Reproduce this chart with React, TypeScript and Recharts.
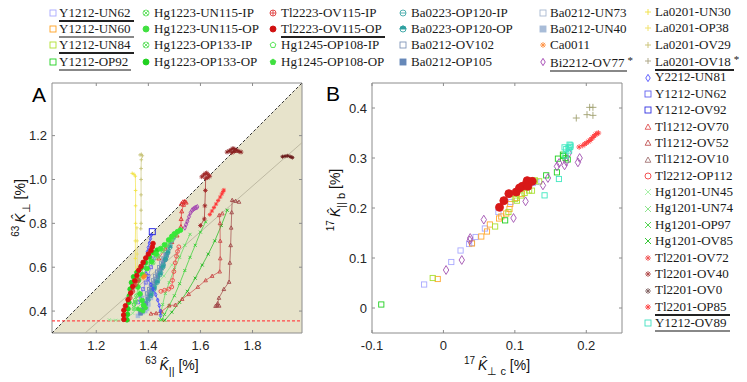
import React from 'react';
import { ScatterChart, Scatter, XAxis, YAxis, ReferenceArea, ReferenceLine } from 'recharts';

type Pt = [number, number];

// ---------- panel A: 63K_perp vs 63K_par (temperature sweeps) ----------
const aLa0201UN30: Pt[] = [[1.338, 1.028], [1.345, 1.024], [1.35, 1.015], [1.351, 0.95], [1.351, 0.88], [1.351, 0.8], [1.35, 0.72], [1.35, 0.64], [1.351, 0.58], [1.352, 0.55]];
const aLa0201OP38: Pt[] = [[1.356, 0.78], [1.357, 0.72], [1.357, 0.66], [1.358, 0.6], [1.358, 0.55], [1.359, 0.527]];
const aLa0201OV29: Pt[] = [[1.368, 1.112], [1.373, 1.115], [1.377, 1.108], [1.373, 1.09], [1.372, 1.05], [1.372, 1.0], [1.372, 0.93], [1.372, 0.86], [1.372, 0.8], [1.371, 0.775]];
const aCa0011: Pt[] = [[1.38, 0.552], [1.384, 0.558], [1.387, 0.562]];
const aTl2223OP: Pt[] = [[1.418, 0.708], [1.415, 0.692], [1.41, 0.676], [1.4, 0.66], [1.39, 0.642], [1.38, 0.622], [1.372, 0.604], [1.363, 0.586], [1.356, 0.562], [1.348, 0.538], [1.34, 0.512], [1.332, 0.482], [1.322, 0.452], [1.312, 0.424], [1.306, 0.404], [1.305, 0.382], [1.306, 0.362]];
const aTl2223IP: Pt[] = [[1.33, 0.46], [1.34, 0.49], [1.35, 0.52], [1.36, 0.54]];
const aHg1223UN115OP: Pt[] = [[1.523, 0.769], [1.512, 0.762], [1.5, 0.752], [1.49, 0.74], [1.478, 0.724], [1.462, 0.702], [1.447, 0.685], [1.43, 0.66], [1.412, 0.626], [1.395, 0.594], [1.378, 0.565], [1.362, 0.54], [1.36, 0.51], [1.368, 0.478], [1.376, 0.448], [1.382, 0.426]];
const aHg1223OP133OP: Pt[] = [[1.434, 0.678], [1.42, 0.666], [1.404, 0.646], [1.388, 0.622], [1.372, 0.598], [1.356, 0.576], [1.343, 0.556], [1.335, 0.53], [1.33, 0.5], [1.327, 0.47], [1.325, 0.44], [1.322, 0.41], [1.32, 0.385], [1.318, 0.36]];
const aHg1223UN115IP: Pt[] = [[1.505, 0.745], [1.49, 0.725], [1.472, 0.7], [1.455, 0.676], [1.437, 0.65], [1.418, 0.62]];
const aHg1223OP133IP: Pt[] = [[1.4, 0.62], [1.385, 0.6], [1.37, 0.58], [1.355, 0.47], [1.35, 0.44], [1.345, 0.41]];
const aHg1245OP: Pt[] = [[1.36, 0.41], [1.37, 0.405], [1.38, 0.4], [1.39, 0.415]];
const aHg1245IP: Pt[] = [[1.35, 0.45], [1.345, 0.43]];
const aBa0212OP105: Pt[] = [[1.37, 0.39], [1.375, 0.4], [1.382, 0.415], [1.39, 0.435], [1.398, 0.455], [1.405, 0.475], [1.412, 0.495], [1.42, 0.515], [1.428, 0.535], [1.436, 0.555], [1.443, 0.575], [1.45, 0.595], [1.457, 0.615], [1.463, 0.635], [1.47, 0.655]];
const aBa0212UN40: Pt[] = [[1.36, 0.378], [1.368, 0.39], [1.378, 0.395], [1.388, 0.4], [1.395, 0.41], [1.4, 0.43], [1.41, 0.46], [1.42, 0.49]];
const aBa0212OV102: Pt[] = [[1.395, 0.48], [1.403, 0.5], [1.41, 0.52], [1.418, 0.54], [1.426, 0.56], [1.434, 0.58], [1.442, 0.6], [1.45, 0.62], [1.458, 0.64], [1.466, 0.66]];
const aBa0212UN73: Pt[] = [[1.38, 0.44], [1.388, 0.46], [1.396, 0.48], [1.404, 0.5], [1.41, 0.52]];
const aBa0223IP: Pt[] = [[1.4, 0.45], [1.412, 0.48], [1.424, 0.51], [1.436, 0.54], [1.448, 0.575], [1.458, 0.61], [1.468, 0.645], [1.476, 0.675], [1.484, 0.7], [1.49, 0.72], [1.496, 0.732]];
const aBa0223OP: Pt[] = [[1.41, 0.47], [1.422, 0.5], [1.434, 0.53], [1.445, 0.565], [1.456, 0.6], [1.466, 0.635], [1.475, 0.665], [1.483, 0.69]];
const aY1212OV92: Pt[] = [[1.415, 0.762]];
const aY2212UN81: Pt[] = [[1.412, 0.748], [1.408, 0.73], [1.404, 0.71], [1.4, 0.69], [1.396, 0.67], [1.392, 0.645], [1.389, 0.62], [1.388, 0.596], [1.392, 0.57], [1.4, 0.545], [1.41, 0.52], [1.418, 0.5], [1.428, 0.475], [1.436, 0.45], [1.442, 0.425], [1.446, 0.4], [1.447, 0.38]];
const aY1212UN62: Pt[] = [[1.36, 0.44], [1.37, 0.47], [1.38, 0.5], [1.39, 0.53], [1.4, 0.56], [1.41, 0.6], [1.42, 0.64]];
const aTl2212OP112: Pt[] = [[1.517, 0.693], [1.512, 0.672], [1.508, 0.65], [1.503, 0.62], [1.498, 0.58], [1.493, 0.54], [1.49, 0.51], [1.478, 0.5], [1.462, 0.495], [1.448, 0.49]];
const aTl1212OV70: Pt[] = [[1.527, 0.89], [1.533, 0.898], [1.54, 0.9], [1.545, 0.895], [1.535, 0.885], [1.528, 0.855], [1.526, 0.82], [1.525, 0.785], [1.51, 0.745], [1.49, 0.715], [1.465, 0.685], [1.44, 0.64]];
const aTl1212OV52: Pt[] = [[1.684, 0.845], [1.672, 0.837], [1.675, 0.8], [1.676, 0.72], [1.676, 0.64], [1.674, 0.58], [1.645, 0.56], [1.62, 0.54], [1.59, 0.51], [1.555, 0.477], [1.53, 0.455], [1.504, 0.428], [1.48, 0.425], [1.45, 0.398], [1.43, 0.39], [1.41, 0.388]];
const aTl1212OV10: Pt[] = [[1.748, 0.898], [1.735, 0.902], [1.722, 0.906], [1.72, 0.85], [1.718, 0.78], [1.716, 0.7], [1.713, 0.62], [1.71, 0.533], [1.69, 0.5], [1.671, 0.46], [1.666, 0.435], [1.665, 0.426], [1.658, 0.423], [1.672, 0.424]];
const aTl2201OP85: Pt[] = [[1.636, 0.84], [1.644, 0.856], [1.652, 0.872], [1.66, 0.888], [1.668, 0.904], [1.676, 0.92], [1.682, 0.934], [1.687, 0.945], [1.69, 0.952]];
const aTl2201OV72: Pt[] = [[1.605, 1.012], [1.612, 1.02], [1.618, 1.026], [1.624, 1.03], [1.63, 1.022], [1.636, 1.015], [1.628, 1.008], [1.62, 1.005], [1.619, 0.95], [1.617, 0.88], [1.615, 0.82], [1.6, 0.79]];
const aTl2201OV40: Pt[] = [[1.702, 1.125], [1.71, 1.13], [1.718, 1.136], [1.725, 1.142], [1.732, 1.138], [1.74, 1.133], [1.748, 1.128], [1.756, 1.125], [1.72, 1.122], [1.73, 1.128]];
const aTl2201OV0: Pt[] = [[1.915, 1.104], [1.925, 1.106], [1.935, 1.108], [1.945, 1.104], [1.953, 1.1]];
const aHg1201OV85: Pt[] = [[1.703, 0.86], [1.68, 0.79], [1.655, 0.72], [1.63, 0.66], [1.607, 0.61], [1.58, 0.55], [1.55, 0.49], [1.52, 0.44], [1.49, 0.395], [1.463, 0.358]];
const aHg1201OP97: Pt[] = [[1.62, 0.807], [1.6, 0.76], [1.58, 0.7], [1.56, 0.645], [1.54, 0.585], [1.52, 0.525], [1.5, 0.47], [1.48, 0.425], [1.462, 0.385], [1.452, 0.36]];
const aHg1201UN74: Pt[] = [[1.56, 0.75], [1.54, 0.7], [1.52, 0.645], [1.5, 0.59], [1.48, 0.53], [1.465, 0.48], [1.455, 0.43], [1.448, 0.39], [1.444, 0.36]];
const aHg1201UN45: Pt[] = [[1.25, 0.36], [1.275, 0.358], [1.3, 0.36], [1.32, 0.37], [1.34, 0.39], [1.37, 0.43], [1.4, 0.47], [1.43, 0.52], [1.46, 0.56], [1.49, 0.61], [1.515, 0.65]];
const aBi2212: Pt[] = [[1.588, 0.875], [1.583, 0.872], [1.578, 0.869], [1.573, 0.865], [1.568, 0.86], [1.562, 0.848], [1.556, 0.83], [1.55, 0.81], [1.545, 0.795], [1.54, 0.78]];

// ---------- panel B: 17K_par,b vs 17K_perp,c ----------
const bY1212UN62: Pt[] = [[-0.027, 0.047], [0.011, 0.092], [0.024, 0.115], [0.036, 0.128], [0.04, 0.13], [0.045, 0.142], [0.058, 0.159], [0.077, 0.192], [0.094, 0.212], [0.125, 0.25], [0.13, 0.252]];
const bY1212UN60: Pt[] = [[-0.008, 0.058], [0.04, 0.129], [0.053, 0.143], [0.061, 0.153], [0.065, 0.167], [0.078, 0.179], [0.081, 0.183], [0.088, 0.189], [0.0925, 0.198], [0.0935, 0.208], [0.102, 0.22], [0.11, 0.228]];
const bY1212UN84: Pt[] = [[-0.015, 0.06], [0.0724, 0.163], [0.091, 0.192], [0.1, 0.218], [0.1028, 0.2147], [0.109, 0.225], [0.1136, 0.23], [0.12, 0.235], [0.124, 0.2347], [0.128, 0.2553], [0.134, 0.2533]];
const bY1212OP92: Pt[] = [[-0.087, 0.007], [0.0864, 0.1753], [0.1439, 0.2653], [0.1589, 0.2713], [0.1603, 0.2987], [0.1673, 0.3067], [0.171, 0.3], [0.174, 0.297], [0.168, 0.304]];
const bY1212OV89: Pt[] = [[0.1416, 0.2253], [0.1617, 0.258], [0.1696, 0.3213], [0.1766, 0.3267], [0.175, 0.32], [0.1775, 0.322], [0.172, 0.318], [0.178, 0.325], [0.171, 0.305], [0.176, 0.315]];
const bBi2212: Pt[] = [[0.0037, 0.076], [0.0257, 0.096], [0.0369, 0.1353], [0.0375, 0.14], [0.0565, 0.1767], [0.0981, 0.18], [0.115, 0.2133], [0.1393, 0.2453], [0.1463, 0.26], [0.1589, 0.2833], [0.162, 0.29], [0.1696, 0.2853], [0.172, 0.293], [0.1757, 0.31], [0.1883, 0.2913], [0.1907, 0.3]];
const bTl2223OP: Pt[] = [[0.0785, 0.2013], [0.0846, 0.2147], [0.0916, 0.2287], [0.1019, 0.232], [0.1065, 0.24], [0.1103, 0.2433], [0.1159, 0.248], [0.1173, 0.2547], [0.1182, 0.2433], [0.1243, 0.2533]];
const bTl2201OP85: Pt[] = [[0.19, 0.322], [0.195, 0.325], [0.198, 0.328], [0.2, 0.33], [0.203, 0.333], [0.205, 0.335], [0.207, 0.338], [0.209, 0.341], [0.211, 0.344], [0.213, 0.347], [0.215, 0.349], [0.217, 0.35]];
const bLa0201OV18: Pt[] = [[0.186, 0.38], [0.2047, 0.4013], [0.2093, 0.4013], [0.201, 0.3867], [0.2093, 0.3853]];

const aXTicks = [1.2, 1.4, 1.6, 1.8];
const aYTicks = [0.4, 0.6, 0.8, 1.0, 1.2];
const bXTicks = [-0.1, 0, 0.1, 0.2];
const bYTicks = [0, 0.1, 0.2, 0.3, 0.4];

type Series = { data: Pt[]; kind: string; color: string; r: number; line?: boolean };

const seriesA: Series[] = [
  { data: aHg1201UN45, kind: 'x', color: '#8ee88e', r: 1.5, line: true },
  { data: aHg1201UN74, kind: 'x', color: '#58dd58', r: 1.5, line: true },
  { data: aHg1201OP97, kind: 'x', color: '#30d030', r: 1.5, line: true },
  { data: aHg1201OV85, kind: 'x', color: '#18b818', r: 1.5, line: true },
  { data: aTl1212OV52, kind: 'tri', color: '#c84848', r: 1.9, line: true },
  { data: aTl1212OV10, kind: 'tri', color: '#a04848', r: 1.9, line: true },
  { data: aTl1212OV70, kind: 'tri', color: '#e03030', r: 2.1, line: true },
  { data: aTl2212OP112, kind: 'o', color: '#f04848', r: 1.9, line: true },
  { data: aBa0212UN73, kind: 'sq', color: '#a8b8d0', r: 1.7, line: true },
  { data: aBa0212OV102, kind: 'sq', color: '#8096b8', r: 1.7, line: true },
  { data: aBa0212UN40, kind: 'sqf', color: '#a8bcd8', r: 1.8, line: true },
  { data: aBa0212OP105, kind: 'sqf', color: '#6688b8', r: 1.8, line: true },
  { data: aBa0223IP, kind: 'oh', color: '#48a8a8', r: 2, line: true },
  { data: aBa0223OP, kind: 'ohalf', color: '#30a0a0', r: 2, line: true },
  { data: aY1212UN62, kind: 'sq', color: '#7070e8', r: 1.5, line: true },
  { data: aY2212UN81, kind: 'dia', color: '#4848ff', r: 1.6, line: true },
  { data: aLa0201UN30, kind: '+', color: '#f2e34a', r: 1.8, line: true },
  { data: aLa0201OP38, kind: '+', color: '#ece070', r: 1.8, line: true },
  { data: aLa0201OV29, kind: '+', color: '#c8c47a', r: 1.8, line: true },
  { data: aHg1245IP, kind: 'pent', color: '#40e040', r: 2.1, line: true },
  { data: aHg1245OP, kind: 'pentf', color: '#40e040', r: 2.1, line: true },
  { data: aHg1223OP133IP, kind: 'ox', color: '#60e060', r: 2, line: true },
  { data: aHg1223UN115IP, kind: 'ox', color: '#60e060', r: 2, line: true },
  { data: aHg1223OP133OP, kind: 'of', color: '#22d622', r: 2.3, line: true },
  { data: aHg1223UN115OP, kind: 'of', color: '#38e838', r: 2.4, line: true },
  { data: aTl2223IP, kind: 'op', color: '#e04040', r: 2, line: true },
  { data: aTl2223OP, kind: 'of', color: '#d81010', r: 2.3, line: true },
  { data: aCa0011, kind: 'ast', color: '#ff8a20', r: 2.6 },
  { data: aY1212OV92, kind: 'sq', color: '#1818e0', r: 3 },
  { data: aBi2212, kind: 'dia', color: '#a040b0', r: 1.9, line: true },
  { data: aTl2201OP85, kind: 'ast', color: '#ff3838', r: 2.1, line: true },
  { data: aTl2201OV72, kind: 'ast', color: '#a02828', r: 2.3, line: true },
  { data: aTl2201OV40, kind: 'ast', color: '#8a2020', r: 2.3, line: true },
  { data: aTl2201OV0, kind: 'ast', color: '#6a1818', r: 2, line: true },
];

const seriesB: Series[] = [
  { data: bY1212UN62, kind: 'sq', color: '#a8a8ff', r: 2.6 },
  { data: bY1212UN60, kind: 'sq', color: '#ffa830', r: 2.6 },
  { data: bY1212UN84, kind: 'sq', color: '#a8e030', r: 2.6 },
  { data: bY1212OP92, kind: 'sq', color: '#20d020', r: 2.6 },
  { data: bBi2212, kind: 'dia', color: '#a050b0', r: 3.4 },
  { data: bY1212OV89, kind: 'sq', color: '#40e8c0', r: 2.6 },
  { data: bTl2223OP, kind: 'of', color: '#d81818', r: 4 },
  { data: bTl2201OP85, kind: 'ast', color: '#ff4040', r: 2.8 },
  { data: bLa0201OV18, kind: '+', color: '#a0a070', r: 3.5 },
];

type Leg = { label: string; kind: string; color: string; ul?: string; star?: boolean };
const legCol1: Leg[] = [
  { label: 'Y1212-UN62', kind: 'sq', color: '#a8a8ff', ul: 'dark' },
  { label: 'Y1212-UN60', kind: 'sq', color: '#ffa020', ul: 'gray' },
  { label: 'Y1212-UN84', kind: 'sq', color: '#b0e030', ul: 'dark' },
  { label: 'Y1212-OP92', kind: 'sq', color: '#20d020', ul: 'gray' },
];
const legCol2: Leg[] = [
  { label: 'Hg1223-UN115-IP', kind: 'ox', color: '#60e060' },
  { label: 'Hg1223-UN115-OP', kind: 'of', color: '#40e040' },
  { label: 'Hg1223-OP133-IP', kind: 'ox', color: '#60e060' },
  { label: 'Hg1223-OP133-OP', kind: 'of', color: '#20d020' },
];
const legCol3: Leg[] = [
  { label: 'Tl2223-OV115-IP', kind: 'op', color: '#e04040' },
  { label: 'Tl2223-OV115-OP', kind: 'of', color: '#d01010', ul: 'dark' },
  { label: 'Hg1245-OP108-IP', kind: 'pent', color: '#40e040' },
  { label: 'Hg1245-OP108-OP', kind: 'pentf', color: '#40e040' },
];
const legCol4: Leg[] = [
  { label: 'Ba0223-OP120-IP', kind: 'oh', color: '#40a8a8' },
  { label: 'Ba0223-OP120-OP', kind: 'ohalf', color: '#30a0a0' },
  { label: 'Ba0212-OV102', kind: 'sq', color: '#8096b8' },
  { label: 'Ba0212-OP105', kind: 'sqf', color: '#6688b8' },
];
const legCol5: Leg[] = [
  { label: 'Ba0212-UN73', kind: 'sq', color: '#a8b8d0' },
  { label: 'Ba0212-UN40', kind: 'sqf', color: '#a8bcd8' },
  { label: 'Ca0011', kind: 'ast', color: '#ff9040' },
  { label: 'Bi2212-OV77', kind: 'dia', color: '#a040b0', ul: 'gray', star: true },
];
const legCol6: Leg[] = [
  { label: 'La0201-UN30', kind: '+', color: '#f0e040' },
  { label: 'La0201-OP38', kind: '+', color: '#f0e060' },
  { label: 'La0201-OV29', kind: '+', color: '#c8c070' },
  { label: 'La0201-OV18', kind: '+', color: '#a8a080', ul: 'dark', star: true },
  { label: 'Y2212-UN81', kind: 'dia', color: '#5050ff' },
  { label: 'Y1212-UN62', kind: 'sq', color: '#6060f0' },
  { label: 'Y1212-OV92', kind: 'sq', color: '#3030e0' },
  { label: 'Tl1212-OV70', kind: 'tri', color: '#e05050' },
  { label: 'Tl1212-OV52', kind: 'tri', color: '#c05050' },
  { label: 'Tl1212-OV10', kind: 'tri', color: '#a07070' },
  { label: 'Tl2212-OP112', kind: 'o', color: '#f04040' },
  { label: 'Hg1201-UN45', kind: 'x', color: '#a0f0a0' },
  { label: 'Hg1201-UN74', kind: 'x', color: '#80e080' },
  { label: 'Hg1201-OP97', kind: 'x', color: '#40d040' },
  { label: 'Hg1201-OV85', kind: 'x', color: '#20c020' },
  { label: 'Tl2201-OV72', kind: 'ast', color: '#f05050' },
  { label: 'Tl2201-OV40', kind: 'ast', color: '#b04848' },
  { label: 'Tl2201-OV0', kind: 'ast', color: '#806060' },
  { label: 'Tl2201-OP85', kind: 'ast', color: '#ff4040', ul: 'dark' },
  { label: 'Y1212-OV89', kind: 'sq', color: '#40e0c0', ul: 'gray' },
];

const AXIS = '#8c8c8c';
const TXT = '#262626';
const SHADE = '#e7e3cb';
const TOP = 83;
const CW = 320;
const CH = 382;
const MR = 18;
const YW = 52;
const TICKFONT = 'Liberation Sans, Arial, sans-serif';

const Mark = ({ cx, cy, kind, color, r }: any) => {
  if (cx == null || cy == null || isNaN(cx) || isNaN(cy)) return null;
  const s = { stroke: color, strokeWidth: 0.9, fill: 'none' };
  const pent = () =>
    [0, 1, 2, 3, 4]
      .map((k) => {
        const a = (-90 + 72 * k) * (Math.PI / 180);
        return `${cx + r * Math.cos(a)},${cy + r * Math.sin(a)}`;
      })
      .join(' ');
  switch (kind) {
    case 'sq':
      return <rect x={cx - r} y={cy - r} width={2 * r} height={2 * r} {...s} />;
    case 'sqf':
      return <rect x={cx - r} y={cy - r} width={2 * r} height={2 * r} {...s} fill={color} />;
    case 'o':
      return <circle cx={cx} cy={cy} r={r} {...s} />;
    case 'of':
      return <circle cx={cx} cy={cy} r={r} {...s} fill={color} />;
    case 'ox': {
      const d = r * 0.7;
      return (
        <g {...s}>
          <circle cx={cx} cy={cy} r={r} />
          <path d={`M${cx - d} ${cy - d}L${cx + d} ${cy + d}M${cx - d} ${cy + d}L${cx + d} ${cy - d}`} />
        </g>
      );
    }
    case 'op':
      return (
        <g {...s}>
          <circle cx={cx} cy={cy} r={r} />
          <path d={`M${cx - r} ${cy}L${cx + r} ${cy}M${cx} ${cy - r}L${cx} ${cy + r}`} />
        </g>
      );
    case 'oh':
      return (
        <g {...s}>
          <circle cx={cx} cy={cy} r={r} />
          <path d={`M${cx - r} ${cy}L${cx + r} ${cy}`} />
        </g>
      );
    case 'ohalf':
      return (
        <g>
          <circle cx={cx} cy={cy} r={r} {...s} />
          <path d={`M${cx - r} ${cy}A${r} ${r} 0 0 1 ${cx + r} ${cy}Z`} fill={color} stroke={color} strokeWidth={0.9} />
        </g>
      );
    case 'pent':
      return <polygon points={pent()} {...s} />;
    case 'pentf':
      return <polygon points={pent()} {...s} fill={color} />;
    case 'ast': {
      const d = r * 0.7;
      return (
        <path
          d={`M${cx - r} ${cy}L${cx + r} ${cy}M${cx} ${cy - r}L${cx} ${cy + r}M${cx - d} ${cy - d}L${cx + d} ${cy + d}M${cx - d} ${cy + d}L${cx + d} ${cy - d}`}
          {...s}
        />
      );
    }
    case '+':
      return <path d={`M${cx - r} ${cy}L${cx + r} ${cy}M${cx} ${cy - r}L${cx} ${cy + r}`} {...s} />;
    case 'x':
      return <path d={`M${cx - r} ${cy - r}L${cx + r} ${cy + r}M${cx - r} ${cy + r}L${cx + r} ${cy - r}`} {...s} />;
    case 'dia':
      return <polygon points={`${cx},${cy - r * 1.3} ${cx + r * 0.8},${cy} ${cx},${cy + r * 1.3} ${cx - r * 0.8},${cy}`} {...s} />;
    case 'tri':
      return <polygon points={`${cx},${cy - r} ${cx + r * 0.95},${cy + r * 0.75} ${cx - r * 0.95},${cy + r * 0.75}`} {...s} />;
    default:
      return null;
  }
};

const fmt = (v: number) => (v === 0 ? '0' : v.toFixed(1));

const XTick = ({ x, y, payload }: any) => (
  <g>
    <line x1={x} x2={x} y1={y} y2={y - 3} stroke={AXIS} />
    <line x1={x} x2={x} y1={TOP} y2={TOP + 3} stroke={AXIS} />
    <text x={x} y={y + 17} textAnchor="middle" fontSize={13} fontFamily={TICKFONT} fill={TXT}>
      {fmt(payload.value)}
    </text>
  </g>
);

const YTick = ({ x, y, payload }: any) => (
  <g>
    <line x1={x} x2={x + 3} y1={y} y2={y} stroke={AXIS} />
    <line x1={CW - MR} x2={CW - MR - 3} y1={y} y2={y} stroke={AXIS} />
    <text x={x - 5} y={y + 4.5} textAnchor="end" fontSize={13} fontFamily={TICKFONT} fill={TXT}>
      {fmt(payload.value)}
    </text>
  </g>
);

const renderSeries = (list: Series[], prefix: string) =>
  list.map((s, i) => (
    <Scatter
      key={`${prefix}-${i}`}
      data={s.data.map(([x, y]) => ({ x, y }))}
      isAnimationActive={false}
      line={s.line ? { stroke: s.color, strokeWidth: 0.7 } : false}
      lineJointType="linear"
      shape={(p: any) => <Mark cx={p.cx} cy={p.cy} kind={s.kind} color={s.color} r={s.r} />}
    />
  ));

const Panel = ({ xDomain, yDomain, xTicks, yTicks, children }: any) => (
  <ScatterChart width={CW} height={CH} margin={{ top: TOP, right: MR, bottom: 19, left: 0 }}>
    <XAxis
      type="number"
      dataKey="x"
      domain={xDomain}
      ticks={xTicks}
      interval={0}
      allowDataOverflow
      axisLine={false}
      tickLine={false}
      tickSize={0}
      tickMargin={0}
      height={30}
      tick={(p: any) => <XTick {...p} />}
    />
    <YAxis
      type="number"
      dataKey="y"
      domain={yDomain}
      ticks={yTicks}
      interval={0}
      allowDataOverflow
      axisLine={false}
      tickLine={false}
      tickSize={0}
      tickMargin={0}
      width={YW}
      tick={(p: any) => <YTick {...p} />}
    />
    {children}
  </ScatterChart>
);

const AxisLabel = ({ iso, sub }: { iso: string; sub: string }) => (
  <span style={{ fontFamily: TICKFONT, fontSize: 14, color: '#111', whiteSpace: 'nowrap' }}>
    <span style={{ fontSize: 10, verticalAlign: 6 }}>{iso}</span>
    <span style={{ fontStyle: 'italic', marginLeft: 3 }}>K&#770;</span>
    <span style={{ fontSize: 11, verticalAlign: -5 }}>{sub}</span>
    <span> [%]</span>
  </span>
);

const LegendColumn = ({ items, left, top, gap }: { items: Leg[]; left: number; top: number; gap: number }) => (
  <div style={{ position: 'absolute', left, top }}>
    {items.map((it) => (
      <div key={it.label + it.color} style={{ height: 16.4, display: 'flex', alignItems: 'center', whiteSpace: 'nowrap' }}>
        <svg width={10} height={10} style={{ flex: 'none' }}>
          <Mark cx={5} cy={5} kind={it.kind} color={it.color} r={it.kind === 'dia' ? 2.8 : 3} />
        </svg>
        <span style={{ marginLeft: gap, fontFamily: 'Liberation Serif, serif', fontSize: 13, lineHeight: '16.4px', color: '#1a1a1a' }}>
          <span style={it.ul ? { borderBottom: `2px solid ${it.ul === 'dark' ? '#222' : '#888'}`, paddingRight: 3 } : undefined}>
            {it.label}
          </span>
          {it.star ? <span style={{ fontSize: 11, verticalAlign: 3 }}>*</span> : null}
        </span>
      </div>
    ))}
  </div>
);

export default function App() {
  return (
    <div style={{ position: 'absolute', left: 0, top: 0, width: 747, height: 382, background: '#fff', overflow: 'hidden' }}>
      <div style={{ position: 'absolute', left: 0, top: 0 }}>
        <Panel xDomain={[1.03, 1.99]} yDomain={[0.3, 1.44]} xTicks={aXTicks} yTicks={aYTicks}>
          <ReferenceArea
            x1={1.03}
            x2={1.99}
            y1={0.3}
            y2={1.44}
            ifOverflow="visible"
            shape={(p: any) => (
              <path d={`M${p.x} ${p.y + p.height}L${p.x + p.width} ${p.y}L${p.x + p.width} ${p.y + p.height}Z`} fill={SHADE} />
            )}
          />
          <ReferenceLine segment={[{ x: 1.157, y: 0.3 }, { x: 1.99, y: 1.168 }]} stroke="#b4ae98" strokeWidth={0.8} ifOverflow="hidden" />
          <ReferenceLine segment={[{ x: 1.03, y: 0.3 }, { x: 1.99, y: 1.44 }]} stroke="#333" strokeWidth={1} strokeDasharray="3 2" ifOverflow="hidden" />
          <ReferenceLine y={0.355} stroke="#ff4a4a" strokeWidth={1.2} strokeDasharray="3 2" />
          {renderSeries(seriesA, 'a')}
          <ReferenceArea x1={1.03} x2={1.99} y1={0.3} y2={1.44} fill="none" stroke={AXIS} strokeWidth={1} ifOverflow="visible" />
        </Panel>
      </div>
      <div style={{ position: 'absolute', left: CW, top: 0 }}>
        <Panel xDomain={[-0.1, 0.25]} yDomain={[-0.05, 0.45]} xTicks={bXTicks} yTicks={bYTicks}>
          {renderSeries(seriesB, 'b')}
          <ReferenceArea x1={-0.1} x2={0.25} y1={-0.05} y2={0.45} fill="none" stroke={AXIS} strokeWidth={1} ifOverflow="visible" />
        </Panel>
      </div>

      <div style={{ position: 'absolute', left: 32, top: 84, fontFamily: TICKFONT, fontSize: 21, lineHeight: 1 }}>A</div>
      <div style={{ position: 'absolute', left: 326, top: 83, fontFamily: TICKFONT, fontSize: 21, lineHeight: 1 }}>B</div>

      <div style={{ position: 'absolute', left: 172, top: 366, transform: 'translate(-50%, -50%)' }}>
        <AxisLabel iso="63" sub="||" />
      </div>
      <div style={{ position: 'absolute', left: 497, top: 366, transform: 'translate(-50%, -50%)' }}>
        <AxisLabel iso="17" sub="⊥ c" />
      </div>
      <div style={{ position: 'absolute', left: 21, top: 208, transform: 'translate(-50%, -50%) rotate(-90deg)' }}>
        <AxisLabel iso="63" sub="⊥" />
      </div>
      <div style={{ position: 'absolute', left: 336, top: 200, transform: 'translate(-50%, -50%) rotate(-90deg)' }}>
        <AxisLabel iso="17" sub="|| b" />
      </div>

      <LegendColumn items={legCol1} left={47.5} top={4.5} gap={1.5} />
      <LegendColumn items={legCol2} left={141} top={4.5} gap={3} />
      <LegendColumn items={legCol3} left={268} top={4.5} gap={3} />
      <LegendColumn items={legCol4} left={397.5} top={4.5} gap={3.5} />
      <LegendColumn items={legCol5} left={537.5} top={4.5} gap={2.5} />
      <LegendColumn items={legCol6} left={642.5} top={3.8} gap={2.5} />
    </div>
  );
}
